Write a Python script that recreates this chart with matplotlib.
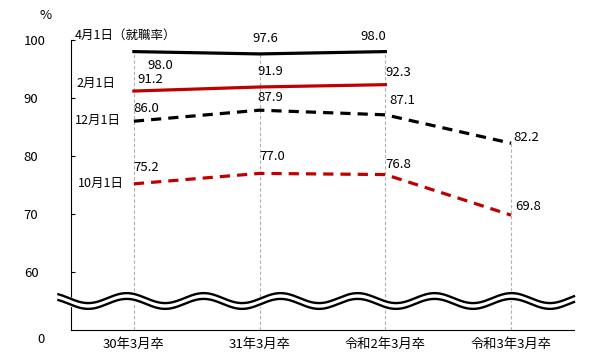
import numpy as np
import matplotlib.pyplot as plt

plt.rcParams['font.family'] = ['Noto Sans CJK JP', 'DejaVu Sans']

# data
categories = ['30年3月卒', '31年3月卒', '令和2年3月卒', '令和3年3月卒']
apr1 = [98.0, 97.6, 98.0]
feb1 = [91.2, 91.9, 92.3]
dec1 = [86.0, 87.9, 87.1, 82.2]
oct1 = [75.2, 77.0, 76.8, 69.8]
series_names = ['4月1日（就職率）', '2月1日', '12月1日', '10月1日']

# label offsets (points) for each value
off_apr = [(19, -10), (4, 11), (-9, 11)]
off_feb = [(12, 8), (8, 11), (9, 9)]
off_dec = [(9, 9), (8, 9), (12, 10), (11, 4)]
off_oct = [(9, 12), (9, 12), (9, 7), (12, 6)]

red = '#c00000'
fig = plt.figure(figsize=(6.06, 3.59), dpi=100)
ax = fig.add_axes([71/606, 1-330/359, (574-71)/606, (330-40)/359])
x = np.arange(len(categories)) + 0.5
ax.set_xlim(0, 4)
ax.set_ylim(50, 100)

# drop lines
tops = [max(a, b, c, d) for a, b, c, d in zip(apr1 + [0], feb1 + [0], dec1, oct1)]
ax.vlines(x, 50, tops, colors='#b0b0b0', linestyles=(0, (3, 2)), linewidth=0.8, zorder=1)

ax.plot(x[:3], apr1, color='black', lw=2.3, zorder=3)
ax.plot(x[:3], feb1, color=red, lw=2.3, zorder=3)
ax.plot(x, dec1, color='black', lw=2.3, dashes=(3.2, 2.2), zorder=3)
ax.plot(x, oct1, color=red, lw=2.3, dashes=(3.2, 2.2), zorder=3)

for vals, offs in [(apr1, off_apr), (feb1, off_feb), (dec1, off_dec), (oct1, off_oct)]:
    for xi, v, o in zip(x, vals, offs):
        ax.annotate(f'{v:.1f}', (xi, v), xytext=o, textcoords='offset points',
                    ha='center', va='center', fontsize=9.5)

# series labels
lab_pos = [(75, 35), (76, 83), (75, 120), (78, 183)]
for name, (px, py) in zip(series_names, lab_pos):
    ax.text((px-71)/125.75, 50 + (330-py)/5.8, name, ha='left', va='center', fontsize=9)

# axis styling
for s in ['top', 'right']:
    ax.spines[s].set_visible(False)
ax.set_yticks([60, 70, 80, 90, 100])
ax.set_yticklabels(['60', '70', '80', '90', '100'])
ax.tick_params(axis='y', direction='in', length=3, pad=34, labelsize=9.5)
for t in ax.get_yticklabels():
    t.set_horizontalalignment('left')
ax.set_xticks(x)
ax.set_xticklabels(categories, fontsize=9.5)
ax.tick_params(axis='x', length=0, pad=6)
ax.text(-0.265, 48.4, '0', ha='left', va='center', fontsize=9.5, clip_on=False)
ax.text(-0.2, 104.3, '%', ha='center', va='center', fontsize=9.5, clip_on=False)

# wavy break marks
wx = np.linspace(-0.1, 4.0, 400)
wave = 0.86 * np.sin(2 * np.pi * (wx - 0.29) / 0.612)
ax.fill_between(wx, 54.5 + wave - 0.2, 55.5 + wave + 0.2, color='white', zorder=5, clip_on=False)
ax.plot(wx, 55.5 + wave, color='black', lw=1.7, zorder=6, clip_on=False)
ax.plot(wx, 54.5 + wave, color='black', lw=1.7, zorder=6, clip_on=False)

fig.savefig('out.png', dpi=100)
